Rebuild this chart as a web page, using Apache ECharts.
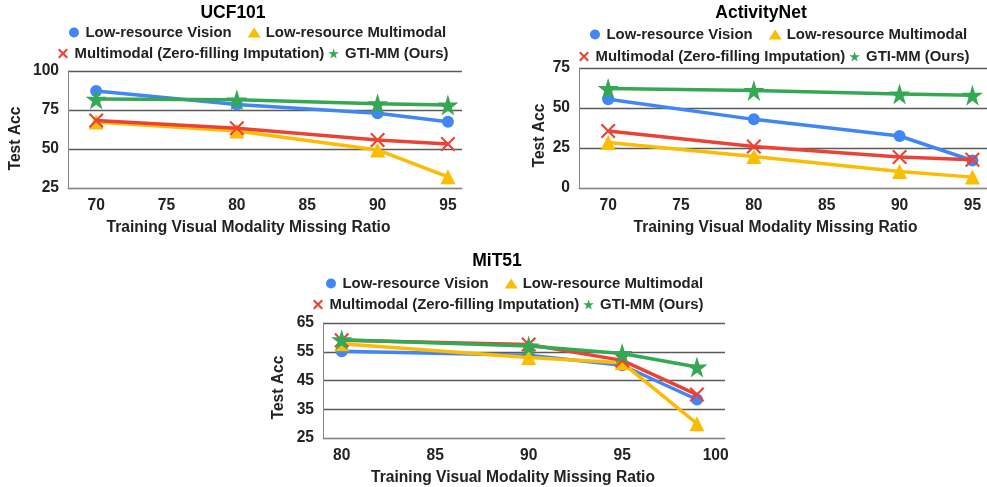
<!DOCTYPE html>
<html><head><meta charset="utf-8">
<script src="https://cdn.jsdelivr.net/npm/echarts@6/dist/echarts.min.js"></script>
<style>html,body{margin:0;padding:0;background:#fff}#c{width:987px;height:487px}</style>
</head><body><div id="c"></div>
<script>
// ---- data ----
const seriesNames = ['Low-resource Vision', 'Low-resource Multimodal', 'Multimodal (Zero-filling Imputation)', 'GTI-MM (Ours)'];
const chartTitles = ['UCF101', 'ActivityNet', 'MiT51'];
const xAxisTitle = 'Training Visual Modality Missing Ratio';
const yAxisTitle = 'Test Acc';

const ucfX = [70, 80, 90, 95];
const ucfVision = [87.2, 78.6, 72.9, 67.5];
const ucfMultimodal = [67.3, 61.5, 49.4, 32.2];
const ucfZeroFill = [68.2, 63.3, 55.8, 53.2];
const ucfGTI = [82.0, 81.5, 79.0, 78.2];
const ucfXTicks = [70, 75, 80, 85, 90, 95];

const anetX = [70, 80, 90, 95];
const anetVision = [55.5, 42.9, 32.5, 17.2];
const anetMultimodal = [28.4, 19.7, 10.3, 6.8];
const anetZeroFill = [35.6, 25.9, 19.3, 17.6];
const anetGTI = [62.2, 61.0, 58.8, 58.0];
const anetXTicks = [70, 75, 80, 85, 90, 95];

const mitX = [80, 90, 95, 99];
const mitVision = [55.2, 53.8, 50.3, 38.4];
const mitMultimodal = [57.8, 53.0, 51.2, 30.0];
const mitZeroFill = [59.0, 57.5, 52.0, 40.1];
const mitGTI = [59.2, 57.0, 54.4, 49.7];
const mitXTicks = [80, 85, 90, 95, 100];

// ---- styling ----
const colors = ['#4285F4', '#FBBC04', '#EA4335', '#34A853'];
const STAR = 'path://M50,0 L61,35 L98,35 L68,57 L79,91 L50,70 L21,91 L32,57 L2,35 L39,35 Z';
const XMARK = 'path://M0,3 L3,0 L10,7 L17,0 L20,3 L13,10 L20,17 L17,20 L10,13 L3,20 L0,17 L7,10 Z';
const XMARK_THIN = 'path://M0,2 L2,0 L10,8 L18,0 L20,2 L12,10 L20,18 L18,20 L10,12 L2,20 L0,18 L8,10 Z';
const symbols = ['circle', 'triangle', XMARK_THIN, STAR];
const symbolSizes = [12, 15, 15, 21];
const FONT = 'Liberation Sans, Arial, sans-serif';

const panels = [
  {x: ucfX, ys: [ucfVision, ucfMultimodal, ucfZeroFill, ucfGTI], ticks: ucfXTicks,
   grid: {left: 68, top: 71, width: 394, height: 117}, xmin: 68, xmax: 96,
   ymin: 25, ymax: 100, yint: 25, yGap: 44, titleX: 233, titleY: 13,
   leg1: {left: 69, top: 25}, leg2: {left: 58, top: 46}, xPad: [0, 33, 0, 0], yPad: [0, 18, 0, 0]},
  {x: anetX, ys: [anetVision, anetMultimodal, anetZeroFill, anetGTI], ticks: anetXTicks,
   grid: {left: 579, top: 68, width: 411, height: 120}, xmin: 68, xmax: 96,
   ymin: 0, ymax: 75, yint: 25, yGap: 31, titleX: 761, titleY: 13,
   leg1: {left: 590, top: 27}, leg2: {left: 579, top: 49}, xPad: [0, 15, 0, 0], yPad: [0, 15, 0, 0]},
  {x: mitX, ys: [mitVision, mitMultimodal, mitZeroFill, mitGTI], ticks: mitXTicks,
   grid: {left: 323, top: 323, width: 402, height: 115}, xmin: 79, xmax: 100.5,
   ymin: 25, ymax: 65, yint: 10, yGap: 36, titleX: 497, titleY: 261,
   leg1: {left: 326, top: 276}, leg2: {left: 313, top: 297}, xPad: [0, 22, 0, 0], yPad: [0, 14, 0, 0]}
];

const option = {
  backgroundColor: '#fff',
  animation: false,
  textStyle: {fontFamily: FONT},
  grid: [], xAxis: [], yAxis: [], series: [], legend: [], graphic: []
};

const legendBase = {
  orient: 'horizontal', padding: 0, itemWidth: 13, itemHeight: 10,
  textStyle: {fontFamily: FONT, fontSize: 14.9, fontWeight: 'bold', color: '#222'},
  selectedMode: false
};

panels.forEach((p, i) => {
  option.grid.push(Object.assign({containLabel: false}, p.grid));
  option.xAxis.push({
    type: 'value', gridIndex: i, min: p.xmin, max: p.xmax,
    name: xAxisTitle, nameLocation: 'middle', nameGap: 32,
    nameTextStyle: {fontFamily: FONT, fontSize: 15.6, fontWeight: 'bold', color: '#222', padding: p.xPad},
    axisLine: {show: true, lineStyle: {color: '#888', width: 1}},
    axisTick: {show: false},
    splitLine: {show: false},
    axisLabel: {customValues: p.ticks, margin: 10, fontFamily: FONT, fontSize: 15.6, fontWeight: 'bold', color: '#222'}
  });
  option.yAxis.push({
    type: 'value', gridIndex: i, min: p.ymin, max: p.ymax, interval: p.yint,
    name: yAxisTitle, nameLocation: 'middle', nameGap: p.yGap,
    nameTextStyle: {fontFamily: FONT, fontSize: 15.6, fontWeight: 'bold', color: '#222', padding: p.yPad},
    axisLine: {show: true, lineStyle: {color: '#888', width: 1}},
    axisTick: {show: false},
    splitLine: {show: true, lineStyle: {color: '#5a5a5a', width: 1.4}},
    axisLabel: {margin: 9, fontFamily: FONT, fontSize: 15.6, fontWeight: 'bold', color: '#222'}
  });
  p.ys.forEach((vals, k) => {
    option.series.push({
      name: seriesNames[k], type: 'line', xAxisIndex: i, yAxisIndex: i,
      data: p.x.map((xv, j) => [xv, vals[j]]),
      symbol: symbols[k], symbolSize: symbolSizes[k], showSymbol: true,
      lineStyle: {color: colors[k], width: 3.5},
      itemStyle: {color: colors[k]},
      z: 2 + k
    });
  });
  option.legend.push(Object.assign({}, legendBase, {
    left: p.leg1.left, top: p.leg1.top, itemGap: 16,
    data: [{name: seriesNames[0], icon: 'circle'}, {name: seriesNames[1], icon: 'triangle'}]
  }));
  option.legend.push(Object.assign({}, legendBase, {
    left: p.leg2.left, top: p.leg2.top, itemGap: 4,
    data: [{name: seriesNames[2], icon: XMARK}, {name: seriesNames[3], icon: STAR}]
  }));
});

option.graphic = panels.map((p, i) => ({
  type: 'text', x: p.titleX, y: p.titleY, z: 10,
  style: {text: chartTitles[i], fontFamily: FONT, fontSize: 17.5, fontWeight: 'bold', fill: '#000', align: 'center', verticalAlign: 'middle'}
}));

const chart = echarts.init(document.getElementById('c'), null, {renderer: 'canvas'});
chart.setOption(option);
</script></body></html>
